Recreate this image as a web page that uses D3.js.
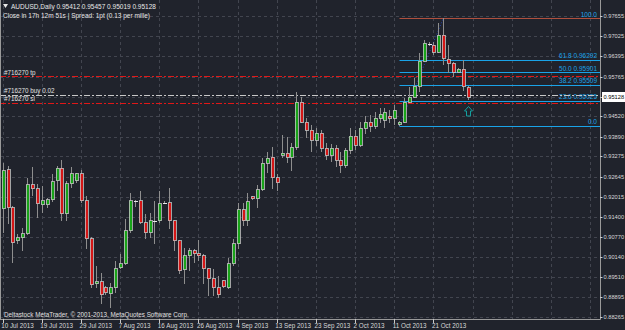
<!DOCTYPE html>
<html>
<head>
<meta charset="utf-8">
<script src="https://cdn.jsdelivr.net/npm/d3@7"></script>
<style>
body { margin: 0; background: #20232c; }
svg { display: block; }
text { font-family: "Liberation Sans", Arial, sans-serif; }
</style>
</head>
<body>
<svg id="chart"></svg>
<script>
var svgWidth = 625;
var svgHeight = 330;
var plotRight = 600;
var plotBottom = 319;

// daily AUDUSD bars, 10 Jul 2013 .. 29 Oct 2013 (broker shows sunday bars)
var opens = [0.91646,0.92866,0.91677,0.90644,0.90738,0.90863,0.92397,0.92272,0.91771,0.91771,
  0.91927,0.92522,0.92898,0.91489,0.92428,0.92522,0.92741,0.91896,0.90707,0.89298,
  0.89361,0.89173,0.88985,0.89173,0.89799,0.89924,0.90957,0.91896,0.91896,0.91207,
  0.90894,0.91270,0.91270,0.91833,0.91833,0.91270,0.90644,0.89736,0.90175,0.90331,
  0.90237,0.90175,0.89768,0.89455,0.89173,0.89392,0.89173,0.89924,0.90550,0.91614,
  0.91270,0.92021,0.91959,0.92240,0.93054,0.93242,0.92616,0.93304,0.93367,0.93242,
  0.93555,0.94963,0.94337,0.94087,0.93774,0.93993,0.93524,0.93304,0.93524,0.93148,
  0.92991,0.93461,0.93899,0.93618,0.94150,0.94337,0.94212,0.94462,0.94400,0.94525,
  0.94462,0.94275,0.94337,0.94963,0.95120,0.95464,0.96247,0.96779,0.96748,0.96528,
  0.97060,0.96309,0.96184,0.95902,0.95996,0.95412];
var highs = [0.93054,0.92991,0.91739,0.90863,0.91051,0.92616,0.92929,0.92428,0.92366,0.91990,
  0.92741,0.92991,0.93148,0.92522,0.92960,0.92772,0.92866,0.92053,0.90769,0.89862,
  0.89642,0.89235,0.89329,0.90018,0.90237,0.91333,0.92146,0.91927,0.92209,0.91489,
  0.91520,0.91896,0.92209,0.91896,0.92303,0.91301,0.90675,0.90425,0.90425,0.90394,
  0.90675,0.90237,0.89799,0.89768,0.89549,0.89423,0.90112,0.90707,0.91833,0.91833,
  0.92146,0.92053,0.92397,0.93211,0.93398,0.93555,0.92741,0.93930,0.93868,0.93680,
  0.95276,0.95120,0.94462,0.94243,0.94150,0.94087,0.93680,0.93649,0.93618,0.93398,
  0.93524,0.94150,0.94087,0.94337,0.94525,0.94556,0.94650,0.94776,0.94776,0.94713,
  0.94870,0.94369,0.95089,0.95433,0.95715,0.96497,0.96904,0.96841,0.96841,0.97436,
  0.97578,0.96748,0.96215,0.96028,0.96278,0.95457];
var lows = [0.90894,0.91176,0.89955,0.90550,0.90331,0.90832,0.92053,0.91364,0.91520,0.91677,
  0.91865,0.92209,0.91270,0.91270,0.92303,0.92459,0.91833,0.90394,0.89173,0.89173,
  0.88672,0.88954,0.88547,0.89016,0.89768,0.89893,0.90894,0.91708,0.91176,0.90707,
  0.90738,0.90550,0.91207,0.91802,0.91020,0.90331,0.89611,0.89298,0.89705,0.89955,
  0.90018,0.89298,0.88923,0.88923,0.88860,0.89173,0.89142,0.89862,0.90394,0.91114,
  0.91114,0.91927,0.91677,0.92209,0.92772,0.92272,0.92209,0.93211,0.93054,0.92835,
  0.93461,0.94306,0.93836,0.93398,0.93586,0.93398,0.93148,0.93085,0.92960,0.92772,
  0.92898,0.93336,0.93461,0.93555,0.93962,0.94024,0.94118,0.94306,0.94150,0.94306,
  0.94243,0.94224,0.94306,0.94932,0.95089,0.95276,0.96215,0.96716,0.96434,0.96497,
  0.96121,0.95871,0.95746,0.95871,0.95308,0.95019];
var closes = [0.92835,0.91677,0.90581,0.90738,0.90863,0.92397,0.92272,0.91802,0.91896,0.91927,
  0.92491,0.92898,0.91489,0.92428,0.92741,0.92741,0.91896,0.90707,0.89267,0.89361,
  0.88954,0.89016,0.89173,0.89768,0.89924,0.90957,0.91896,0.91896,0.91207,0.90894,
  0.91270,0.91270,0.91802,0.91833,0.91270,0.90644,0.89705,0.90175,0.90331,0.90237,
  0.90175,0.89768,0.89455,0.89173,0.88954,0.89204,0.89924,0.90550,0.91614,0.91270,
  0.91865,0.91959,0.92240,0.93054,0.93211,0.92616,0.92459,0.93367,0.93242,0.93555,
  0.94963,0.94337,0.94087,0.93774,0.93993,0.93524,0.93304,0.93524,0.93148,0.92991,
  0.93461,0.93899,0.93618,0.94150,0.94337,0.94212,0.94462,0.94588,0.94650,0.94462,
  0.94713,0.94337,0.94963,0.95120,0.95464,0.96247,0.96810,0.96779,0.96528,0.97060,
  0.96341,0.96184,0.95902,0.95996,0.95464,0.95128];

var priceTicks = [0.97655,0.97025,0.96395,0.95765,0.95140,0.94520,0.93890,0.93275,
  0.92645,0.92015,0.91400,0.90770,0.90140,0.89510,0.88895,0.88265];
var dateLabels = ["10 Jul 2013","19 Jul 2013","29 Jul 2013","7 Aug 2013","16 Aug 2013","26 Aug 2013",
  "4 Sep 2013","13 Sep 2013","23 Sep 2013","2 Oct 2013","11 Oct 2013","21 Oct 2013"];
var barsPerLabel = 8;

var fibLow = 0.94224, fibHigh = 0.97578, fibStartBar = 81, fibEndBar = 90;
var fibRatios = [1, 0.618, 0.5, 0.382, 0.236, 0];
var fibLabels = ["100.0","61.8 0.96292","50.0 0.95901","38.2 0.95509","23.6 0.95025","0.0"];

var orderPrices = [0.95777, 0.95198, 0.94948];
var orderLabels = ["#716270 tp", "#716270 buy 0.02", "#716270 sl"];
var orderColors = ["#e01818", "#c8c8c8", "#e01818"];

var lastBar = closes.length - 1;

var x = d3.scaleLinear().domain([0, lastBar]).range([2.7, 467.7]);
var y = d3.scaleLinear().domain([0.88265, 0.97655]).range([317, 16]);
var fmt = d3.format(".5f");
var px = function(v) { return Math.round(v) + 0.5; };

var svg = d3.select("#chart")
  .attr("width", svgWidth)
  .attr("height", svgHeight);

svg.append("rect").attr("width", svgWidth).attr("height", svgHeight).attr("fill", "#20232c");

// grid
var gridBars = d3.range(0, 124, barsPerLabel);
svg.append("g").selectAll("line")
  .data(gridBars)
  .enter().append("line")
  .attr("x1", function(d) { return px(x(d)); })
  .attr("x2", function(d) { return px(x(d)); })
  .attr("y1", 0).attr("y2", plotBottom)
  .attr("stroke", "#42454f").attr("stroke-dasharray", "3,3");

svg.append("g").selectAll("line")
  .data(priceTicks)
  .enter().append("line")
  .attr("x1", 0).attr("x2", plotRight)
  .attr("y1", function(d) { return px(y(d)); })
  .attr("y2", function(d) { return px(y(d)); })
  .attr("stroke", "#42454f").attr("stroke-dasharray", "3,3");

// fibonacci levels
var fibPrice = function(r) { return fibLow + r * (fibHigh - fibLow); };
var fib = svg.append("g");
fib.selectAll("line")
  .data(fibRatios)
  .enter().append("line")
  .attr("x1", px(x(fibStartBar))).attr("x2", plotRight)
  .attr("y1", function(d) { return px(y(fibPrice(d))); })
  .attr("y2", function(d) { return px(y(fibPrice(d))); })
  .attr("stroke", function(d) { return d === 1 ? "#b0503e" : "#1aa3e8"; });
fib.selectAll("text")
  .data(fibRatios)
  .enter().append("text")
  .attr("x", plotRight - 3)
  .attr("y", function(d) { return y(fibPrice(d)) - 1.5; })
  .attr("text-anchor", "end")
  .attr("font-size", 6.5)
  .attr("fill", "#1aa3e8")
  .text(function(d, i) { return fibLabels[i]; });
fib.append("line")
  .attr("x1", x(fibStartBar)).attr("y1", y(fibLow))
  .attr("x2", x(fibEndBar)).attr("y2", y(fibHigh))
  .attr("stroke", "#2445b8").attr("stroke-dasharray", "1,2");

// order lines
var orders = svg.append("g");
orders.selectAll("line")
  .data(orderPrices)
  .enter().append("line")
  .attr("x1", 0).attr("x2", plotRight)
  .attr("y1", function(d) { return px(y(d)); })
  .attr("y2", function(d) { return px(y(d)); })
  .attr("stroke", function(d, i) { return orderColors[i]; })
  .attr("stroke-dasharray", "6,2,2,2");
orders.selectAll("text")
  .data(orderPrices)
  .enter().append("text")
  .attr("x", 4)
  .attr("y", function(d) { return y(d) - 1.5; })
  .attr("font-size", 6.3)
  .attr("fill", "#e0e0e0")
  .text(function(d, i) { return orderLabels[i]; });

// candles
var bars = d3.range(closes.length);
var candles = svg.append("g").attr("shape-rendering", "crispEdges");
candles.selectAll(".wick")
  .data(bars)
  .enter().append("line")
  .attr("class", "wick")
  .attr("x1", function(i) { return px(x(i)); })
  .attr("x2", function(i) { return px(x(i)); })
  .attr("y1", function(i) { return y(highs[i]); })
  .attr("y2", function(i) { return y(lows[i]); })
  .attr("stroke", "#8e8e8e");
candles.selectAll(".body")
  .data(bars.filter(function(i) { return opens[i] !== closes[i]; }))
  .enter().append("rect")
  .attr("class", "body")
  .attr("x", function(i) { return Math.round(x(i)) - 1; })
  .attr("y", function(i) { return y(Math.max(opens[i], closes[i])); })
  .attr("width", 3)
  .attr("height", function(i) { return Math.max(1, Math.abs(y(opens[i]) - y(closes[i]))); })
  .attr("fill", function(i) { return closes[i] > opens[i] ? "#19a319" : "#d41616"; })
  .attr("stroke", "#c4c4c4")
  .attr("stroke-width", 0.8);
candles.selectAll(".doji")
  .data(bars.filter(function(i) { return opens[i] === closes[i]; }))
  .enter().append("line")
  .attr("class", "doji")
  .attr("x1", function(i) { return Math.round(x(i)) - 1.5; })
  .attr("x2", function(i) { return Math.round(x(i)) + 2.5; })
  .attr("y1", function(i) { return px(y(closes[i])); })
  .attr("y2", function(i) { return px(y(closes[i])); })
  .attr("stroke", "#e8e8e8");

// buy arrow under the last bar
var ax = px(x(lastBar)), ay = y(lows[lastBar]) + 6;
svg.append("path")
  .attr("d", "M" + ax + "," + ay + "l4,4.5h-2v5h-4v-5h-2z")
  .attr("fill", "#20232c")
  .attr("stroke", "#14a0a0");

// frame
svg.append("line").attr("x1", 0.5).attr("x2", 0.5).attr("y1", 0).attr("y2", plotBottom).attr("stroke", "#9a9a9a");
svg.append("line").attr("x1", plotRight + 0.5).attr("x2", plotRight + 0.5).attr("y1", 0).attr("y2", plotBottom + 0.5).attr("stroke", "#9a9a9a");
svg.append("line").attr("x1", 0).attr("x2", plotRight + 0.5).attr("y1", plotBottom + 0.5).attr("y2", plotBottom + 0.5).attr("stroke", "#9a9a9a");

// price axis
var yAxis = svg.append("g");
yAxis.selectAll("line")
  .data(priceTicks)
  .enter().append("line")
  .attr("x1", plotRight).attr("x2", plotRight + 2.5)
  .attr("y1", function(d) { return px(y(d)); })
  .attr("y2", function(d) { return px(y(d)); })
  .attr("stroke", "#c8c8c8");
yAxis.selectAll("text")
  .data(priceTicks)
  .enter().append("text")
  .attr("x", plotRight + 3.5)
  .attr("y", function(d) { return y(d) + 2; })
  .attr("font-size", 5.7)
  .attr("fill", "#d8d8d8")
  .text(function(d) { return fmt(d); });

var cy = y(closes[lastBar]);
svg.append("rect")
  .attr("x", plotRight + 2).attr("y", Math.round(cy) - 5)
  .attr("width", svgWidth - plotRight - 2).attr("height", 10)
  .attr("fill", "#ffffff");
svg.append("text")
  .attr("x", plotRight + 3.5).attr("y", cy + 2)
  .attr("font-size", 5.7).attr("fill", "#000000")
  .text(fmt(closes[lastBar]));

// time axis
var labelBars = dateLabels.map(function(d, i) { return i * barsPerLabel; });
var xAxis = svg.append("g");
xAxis.selectAll("line")
  .data(labelBars)
  .enter().append("line")
  .attr("x1", function(d) { return px(x(d)); })
  .attr("x2", function(d) { return px(x(d)); })
  .attr("y1", plotBottom).attr("y2", plotBottom + 4)
  .attr("stroke", "#c8c8c8");
xAxis.selectAll("text")
  .data(labelBars)
  .enter().append("text")
  .attr("x", function(d) { return x(d) - 1.5; })
  .attr("y", 327.5)
  .attr("font-size", 6.3)
  .attr("fill", "#d8d8d8")
  .text(function(d, i) { return dateLabels[i]; });

// header and footer
svg.append("path").attr("d", "M3,4h5l-2.5,4z").attr("fill", "#e8e8e8");
svg.append("text").attr("x", 11).attr("y", 8.5).attr("font-size", 6.5).attr("fill", "#e8e8e8")
  .text("AUDUSD,Daily  " + [opens[lastBar], highs[lastBar], lows[lastBar], closes[lastBar]].map(fmt).join(" "));
svg.append("text").attr("x", 3).attr("y", 17.5).attr("font-size", 6.5).attr("fill", "#e8e8e8")
  .text("Close in 17h 12m 51s | Spread: 1pt (0.13 per mille)");
svg.append("text").attr("x", 4).attr("y", 316.5).attr("font-size", 6.3).attr("fill", "#e0e0e0")
  .text("Deltastock MetaTrader, \u00a9 2001-2013, MetaQuotes Software Corp.");
</script>
</body>
</html>
